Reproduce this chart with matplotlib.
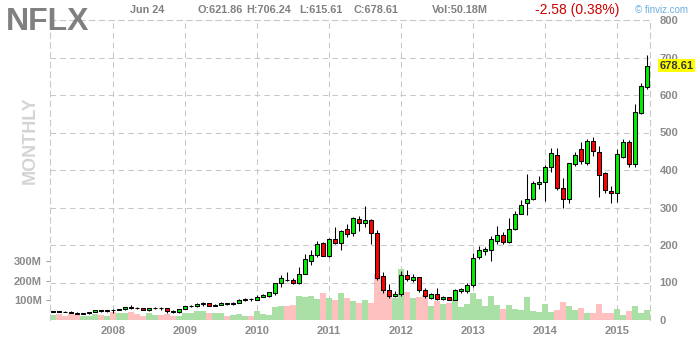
import matplotlib
matplotlib.use('Agg')
import matplotlib.pyplot as plt
import matplotlib.font_manager as fm
import numpy as np
import pandas as pd

plt.rcParams['font.family'] = ['Liberation Sans', 'DejaVu Sans']
plt.rcParams['lines.scale_dashes'] = False

# monthly candles, Mar 2007 .. Jun 2015
months = pd.date_range('2007-03-01', '2015-06-01', freq='MS')

opens = [22.6, 22.9, 22.5, 22.2, 19.4, 17.3, 17.6, 20.8, 25.4, 23.3,
         26.6, 26.0, 29.4, 34.8, 32.0, 31.8, 26.1, 30.9, 31.2, 30.9, 24.6, 20.9,
         29.9, 36.1, 36.6, 42.9, 45.3, 38.3, 41.3, 44.2, 43.4, 46.2, 53.4, 57.3,
         54.0, 62.3, 64.5, 71.0, 97.5, 107.5, 108.0, 99.5, 124.0, 158.0, 173.0, 206.5,
         171.0, 215.0, 205.0, 242.0, 232.0, 269.0, 258.0, 268.0, 233.0, 117.0, 79.5, 63.0,
         70.0, 121.0, 106.0, 113.5, 81.0, 59.5, 68.5, 56.6, 60.4, 54.6, 77.0, 78.0,
         93.0, 167.0, 184.0, 188.0, 211.0, 226.0, 209.0, 244.0, 284.0, 311.0, 323.0, 362.0,
         367.0, 408.0, 440.0, 351.0, 322.0, 416.0, 455.0, 418.0, 477.0, 447.0, 391.0, 343.0,
         340.0, 436.0, 474.0, 415.0, 553.0, 621.86]
highs = [23.8, 25.2, 23.4, 22.9, 20.3, 19.2, 21.4, 26.8, 27.0, 27.8,
         30.5, 30.0, 36.0, 40.9, 34.5, 33.0, 32.0, 33.5, 33.6, 31.4, 25.4, 30.5,
         38.0, 40.0, 44.5, 46.8, 46.0, 43.2, 47.3, 45.6, 49.0, 55.5, 59.5, 59.0,
         65.5, 69.5, 76.0, 100.0, 120.0, 127.0, 112.0, 141.0, 175.0, 186.0, 209.5, 208.0,
         219.0, 247.0, 240.0, 255.0, 276.0, 278.0, 304.0, 270.0, 240.0, 128.0, 95.5, 77.0,
         131.0, 133.0, 124.0, 115.0, 84.5, 72.0, 86.5, 64.5, 62.0, 84.0, 85.0, 97.5,
         177.5, 197.0, 195.0, 224.0, 250.0, 235.0, 271.0, 290.0, 319.0, 389.0, 370.0, 384.0,
         413.0, 458.0, 458.0, 380.0, 420.0, 449.0, 474.0, 484.0, 487.0, 465.0, 395.0, 357.0,
         455.0, 484.0, 480.0, 575.0, 632.0, 706.24]
lows = [21.3, 20.8, 20.9, 18.8, 16.4, 15.6, 17.2, 20.2, 21.4, 22.5,
        19.0, 25.4, 27.6, 30.2, 29.6, 25.5, 24.0, 29.0, 28.0, 17.9, 18.5, 20.0,
        28.6, 33.5, 34.3, 38.5, 36.3, 36.6, 39.0, 40.6, 40.5, 44.5, 50.0, 51.6,
        52.5, 60.8, 62.5, 68.0, 87.5, 103.0, 95.0, 97.0, 122.0, 146.0, 169.0, 170.0,
        168.0, 202.0, 187.0, 222.0, 225.0, 238.0, 247.0, 202.0, 106.0, 72.0, 60.0, 62.0,
        63.0, 104.0, 102.0, 74.0, 60.0, 57.0, 53.0, 52.5, 52.8, 53.0, 72.5, 72.0,
        88.0, 161.5, 174.0, 158.0, 204.0, 202.0, 206.0, 240.0, 282.0, 281.0, 320.0, 350.0,
        317.0, 395.0, 346.0, 298.0, 313.0, 410.0, 416.0, 413.0, 438.0, 329.0, 340.0, 313.0,
        315.0, 431.0, 408.0, 408.0, 549.0, 615.61]
closes = [22.9, 22.5, 22.1, 19.4, 17.3, 17.6, 20.7, 25.4, 23.3, 26.6,
          26.2, 29.4, 34.6, 31.9, 31.7, 26.1, 30.9, 31.2, 30.9, 24.7, 20.9, 29.9,
          36.1, 36.6, 42.9, 45.4, 38.3, 41.3, 44.2, 43.4, 46.2, 53.4, 57.3, 55.1,
          62.3, 67.8, 73.7, 97.5, 110.7, 106.2, 99.3, 124.0, 161.5, 173.0, 204.0, 171.0,
          215.5, 205.0, 237.0, 230.0, 271.0, 260.0, 266.0, 231.0, 111.0, 79.5, 63.0, 69.3,
          119.5, 110.0, 114.0, 79.5, 63.5, 68.5, 56.6, 60.4, 54.6, 79.6, 81.7, 92.6,
          165.0, 188.0, 189.5, 216.0, 226.0, 207.0, 244.0, 284.0, 308.0, 322.0, 366.0, 368.0,
          409.0, 446.0, 352.0, 322.0, 418.0, 440.0, 423.0, 477.0, 451.0, 388.0, 346.0, 340.0,
          442.0, 474.0, 415.0, 554.0, 624.0, 678.61]
# volume in millions
volumes = [25, 31, 19, 30, 28, 22, 21, 33, 27, 20,
           42, 37, 37, 43, 31, 18, 37, 26, 27, 31, 20, 20,
           37, 37, 46, 46, 36, 36, 35, 19, 25, 30, 20, 20,
           46, 30, 25, 66, 71, 71, 76, 122, 117, 122, 107, 138,
           110, 100, 138, 112, 97, 87, 102, 87, 235, 225, 140, 110,
           260, 144, 113, 119, 127, 73, 97, 84, 88, 105, 67, 81,
           139, 107, 73, 124, 76, 55, 76, 55, 50, 117, 47, 42,
           83, 42, 50, 93, 73, 50, 59, 36, 36, 83, 36, 36,
           55, 25, 45, 73, 36, 50.18]

price_ticks = [0, 100, 200, 300, 400, 500, 600, 700, 800]
vol_ticks = [100, 200, 300]
vol_labels = ['100M', '200M', '300M']

GRID = '#c8c8c8'
LABEL = '#8a8a8a'
DASH = (0, (4, 3))

o = np.array(opens)
h = np.array(highs)
l = np.array(lows)
c = np.array(closes)
idx = np.arange(len(months))
up = c >= o

fig = plt.figure(figsize=(7, 3.4), dpi=100)
ax_vol = fig.add_axes([50 / 700, 20 / 340, 600 / 700, 300 / 340])
ax = ax_vol.twinx()
ax.set_zorder(ax_vol.get_zorder() + 1)
ax.patch.set_visible(False)

# volume bars
ax_vol.bar(idx, volumes, width=0.85, color=np.where(up, '#aadfa5', '#ffc0c0'), zorder=2)
ax_vol.set_ylim(0, 1530)
ax_vol.set_xlim(-0.5, len(months) - 0.5)

# year grid
jan = [i for i, m in enumerate(months) if m.month == 1]
ax_vol.set_xticks(jan)
ax_vol.set_xticklabels([str(months[i].year) for i in jan], fontweight='bold')
ax_vol.tick_params(axis='x', length=0, pad=4, labelsize=8, labelcolor=LABEL)
ax_vol.grid(axis='x', color=GRID, linestyle=DASH, linewidth=0.75)
ax_vol.set_yticks(vol_ticks)
ax_vol.set_yticklabels(vol_labels, fontweight='bold')
ax_vol.tick_params(axis='y', length=3, width=0.75, color='#a0a0a0', pad=3,
                   labelsize=8, labelcolor=LABEL)
for s in ax_vol.spines.values():
    s.set_visible(False)

# candles
ax.vlines(idx, l, h, color='black', linewidth=0.75, zorder=3)
ax.bar(idx, np.abs(c - o), bottom=np.minimum(o, c), width=0.6,
       color=np.where(up, '#00ee00', '#ff0000'), edgecolor='black', linewidth=0.75, zorder=4)
ax.set_ylim(0, 800)
ax.set_yticks(price_ticks)
ax.set_yticklabels([str(p) for p in price_ticks], fontweight='bold')
ax.tick_params(axis='y', length=0, pad=7, labelsize=8, labelcolor=LABEL)
ax.grid(axis='y', color=GRID, linestyle=DASH, linewidth=0.75, zorder=1)
ax.set_axisbelow(True)
for side, s in ax.spines.items():
    if side == 'bottom':
        s.set_visible(False)
    else:
        s.set_color(GRID)
        s.set_linestyle(DASH)
        s.set_linewidth(0.75)

# last price tag (sits over the lower half of the 700 label, as in finviz)
ax.annotate(f'{closes[-1]:.2f}', xy=(1, closes[-1]), xycoords=('axes fraction', 'data'),
            xytext=(9.5, 0), textcoords='offset pixels', ha='left', va='center',
            fontsize=8, fontweight='bold', color='#333333', zorder=10,
            annotation_clip=False,
            bbox=dict(boxstyle='square,pad=0.12', fc='#ffff00', ec='none'))

# header
names = {f.name for f in fm.fontManager.ttflist}
if 'Liberation Sans Narrow' in names:
    fig.text(6 / 700, 1 - 30.5 / 340, 'NFLX', family='Liberation Sans Narrow',
             fontsize=27.5, fontweight='bold', color='#808080', va='baseline')
else:
    fig.text(6 / 700, 1 - 30.5 / 340, 'NFLX', fontsize=23,
             fontweight='bold', color='#808080', va='baseline')


def head(x, s, **kw):
    opts = dict(fontsize=7.8, fontweight='bold', color='#808080', va='center', ha='left')
    opts.update(kw)
    fig.text(x / 700, 1 - 10 / 340, s, **opts)


head(130, 'Jun 24')
head(197, f'O:{opens[-1]:.2f}')
head(246, f'H:{highs[-1]:.2f}')
head(299, f'L:{lows[-1]:.2f}')
head(353, f'C:{closes[-1]:.2f}')
head(432, f'Vol:{volumes[-1]:.2f}M')
head(535, '-2.58 (0.38%)', fontsize=10, fontweight='normal', color='#cc0000')
head(635, '\u00a9 finviz.com', fontsize=7, fontweight='normal', color='#6aaee0')

fig.text(30.5 / 700, 1 - 140 / 340, 'MONTHLY', rotation=90, fontsize=13,
         fontweight='bold', color='#d4d4d4', ha='center', va='center')

fig.savefig('out.png', dpi=100)
